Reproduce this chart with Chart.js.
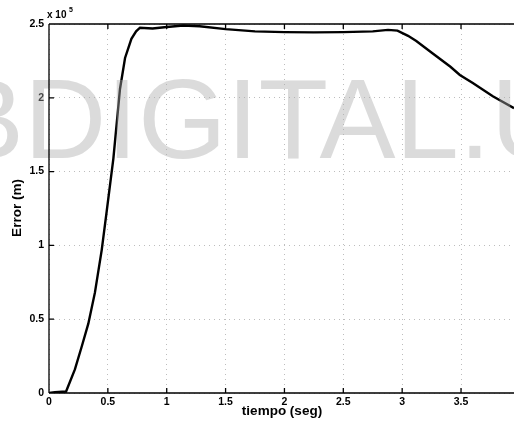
<!DOCTYPE html>
<html>
<head>
<meta charset="utf-8">
<script src="https://cdn.jsdelivr.net/npm/chart.js@4"></script>
<style>
  html, body { margin: 0; padding: 0; background: #fff; }
  #wrap { width: 514px; height: 426px; }
</style>
</head>
<body>
<div id="wrap"><canvas id="errChart" width="514" height="426"></canvas></div>
<script>
// tiempo (seg)
const timeVals = [0, 0.05, 0.145, 0.22, 0.28, 0.334, 0.39, 0.448, 0.49, 0.547, 0.603, 0.646, 0.70, 0.74, 0.773,
  0.88, 1.0, 1.14, 1.28, 1.5, 1.75, 2.0, 2.25, 2.5, 2.75, 2.88, 2.96, 3.05, 3.12, 3.26, 3.41, 3.49, 3.60, 3.77, 3.95];
// Error (m)
const errorVals = [0, 500, 1000, 16000, 32000, 47000, 68000, 97000, 123000, 159000, 206000, 227000, 240000, 245000, 247500,
  247000, 248000, 249000, 248500, 246500, 245000, 244500, 244300, 244500, 245000, 246000, 245500, 242000, 238500,
  230000, 221000, 215500, 210000, 201000, 193000];

const xTicks = [0, 0.5, 1, 1.5, 2, 2.5, 3, 3.5];
const yTicks = [0, 50000, 100000, 150000, 200000, 250000];

const tickFont = { family: "'Liberation Sans', Arial, sans-serif", size: 10.5, weight: 'bold' };
const gridStyle = { color: '#bdbdbd', lineWidth: 1, drawTicks: false };

const points = timeVals.map((t, i) => ({ x: t, y: errorVals[i] }));

const decorations = {
  id: 'decorations',
  afterDatasetsDraw(chart) {
    const ctx = chart.ctx;
    ctx.save();
    ctx.fillStyle = 'rgba(170,170,170,0.42)';
    ctx.font = "114px 'Liberation Sans', Arial, sans-serif";
    ctx.textBaseline = 'alphabetic';
    ctx.fillText('BDIGITAL.U', -52, 158);
    ctx.restore();
  },
  afterDraw(chart) {
    const ctx = chart.ctx;
    const a = chart.chartArea;
    const xs = chart.scales.x, ys = chart.scales.y;
    ctx.save();
    ctx.strokeStyle = '#000';
    ctx.lineWidth = 1.3;
    ctx.beginPath();
    ctx.moveTo(a.left, a.top); ctx.lineTo(a.right, a.top);
    ctx.moveTo(a.left, a.top); ctx.lineTo(a.left, a.bottom);
    ctx.moveTo(a.left, a.bottom); ctx.lineTo(a.right, a.bottom);
    xTicks.forEach(v => {
      const px = xs.getPixelForValue(v);
      ctx.moveTo(px, a.bottom); ctx.lineTo(px, a.bottom - 5);
      ctx.moveTo(px, a.top); ctx.lineTo(px, a.top + 5);
    });
    yTicks.forEach(v => {
      const py = ys.getPixelForValue(v);
      ctx.moveTo(a.left, py); ctx.lineTo(a.left + 5, py);
    });
    ctx.stroke();

    ctx.fillStyle = '#000';
    ctx.font = "bold 10px 'Liberation Sans', Arial, sans-serif";
    ctx.textAlign = 'left';
    ctx.textBaseline = 'alphabetic';
    ctx.fillText('x 10', 47, 18);
    ctx.font = "bold 7px 'Liberation Sans', Arial, sans-serif";
    ctx.fillText('5', 69, 12);

    ctx.font = "bold 13.5px 'Liberation Sans', Arial, sans-serif";
    ctx.textAlign = 'center';
    ctx.textBaseline = 'middle';
    ctx.fillText('tiempo (seg)', 282, 411);
    ctx.translate(17, 208);
    ctx.rotate(-Math.PI / 2);
    ctx.fillText('Error (m)', 0, 0);
    ctx.restore();
  }
};

new Chart(document.getElementById('errChart'), {
  type: 'line',
  data: {
    datasets: [{
      data: points,
      borderColor: '#000',
      borderWidth: 2.4,
      pointRadius: 0,
      tension: 0,
      fill: false
    }]
  },
  options: {
    responsive: false,
    animation: false,
    layout: { padding: { top: 24, right: 0, left: 0, bottom: 0 } },
    plugins: { legend: { display: false }, tooltip: { enabled: false } },
    scales: {
      x: {
        type: 'linear',
        min: 0,
        max: 3.95,
        afterBuildTicks: s => { s.ticks = xTicks.map(v => ({ value: v })); },
        afterFit: s => { s.height = 33; },
        ticks: { font: tickFont, color: '#000', padding: 3, maxRotation: 0, autoSkip: false, callback: v => String(v) },
        grid: gridStyle,
        border: { display: false, dash: [1, 4] }
      },
      y: {
        min: 0,
        max: 250000,
        afterBuildTicks: s => { s.ticks = yTicks.map(v => ({ value: v })); },
        afterFit: s => { s.width = 49; },
        ticks: { font: tickFont, color: '#000', padding: 5, callback: v => String(v / 100000) },
        grid: gridStyle,
        border: { display: false, dash: [1, 4] }
      }
    }
  },
  plugins: [decorations]
});
</script>
</body>
</html>
